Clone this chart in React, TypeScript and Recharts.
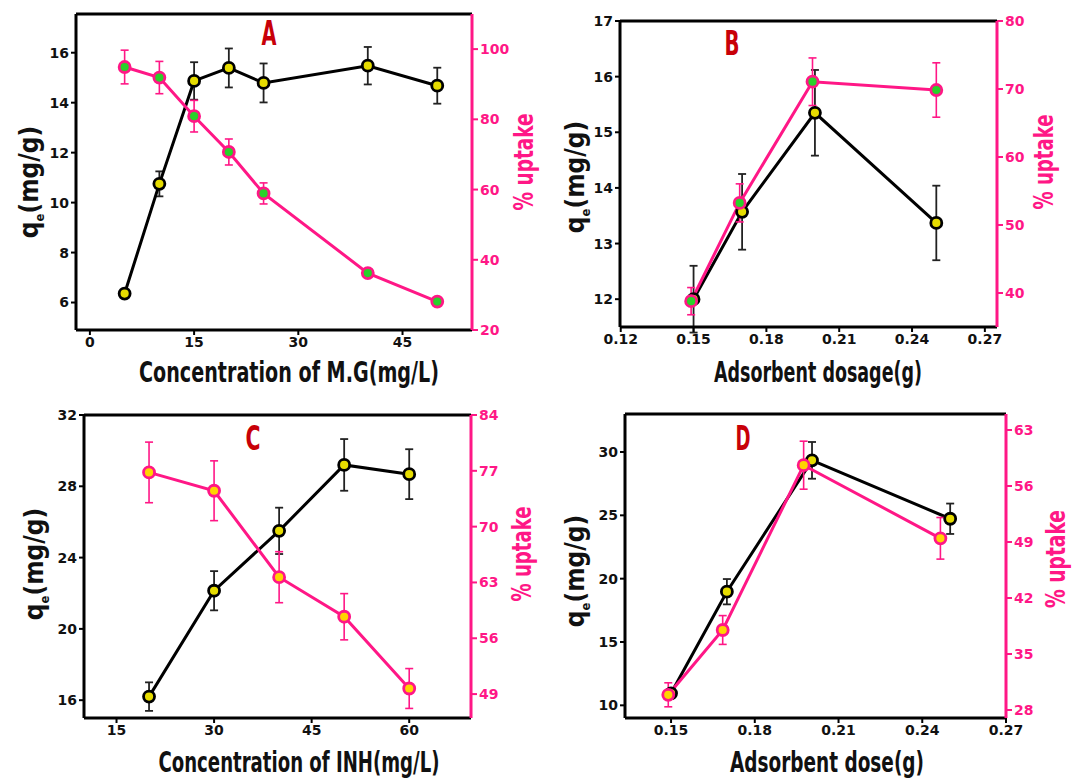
import React from 'react';
import { ComposedChart, Line, XAxis, YAxis, ErrorBar, ReferenceLine } from 'recharts';

// ---------- Panel A: effect of initial M.G concentration ----------
const mgConc = [5, 10, 15, 20, 25, 40, 50];
const mgQe = [6.36, 10.75, 14.87, 15.39, 14.79, 15.48, 14.68];
const mgQeErr = [0.15, 0.5, 0.75, 0.78, 0.78, 0.75, 0.72];
const mgUptake = [94.9, 91.9, 80.9, 70.7, 58.9, 36.2, 28.1];
const mgUptakeErr = [4.8, 4.6, 4.5, 3.7, 3.0, 0.6, 0.6];

// ---------- Panel B: effect of adsorbent dosage on M.G ----------
const mgDoseQeX = [0.15, 0.17, 0.2, 0.25];
const mgDoseQe = [12.0, 13.57, 15.35, 13.37];
const mgDoseQeErr = [0.6, 0.68, 0.77, 0.67];
const mgDoseUpX = [0.149, 0.169, 0.199, 0.25];
const mgDoseUp = [38.8, 53.25, 71.07, 69.85];
const mgDoseUpErr = [2.0, 2.8, 3.5, 4.0];

// ---------- Panel C: effect of initial INH concentration ----------
const inhConc = [20, 30, 40, 50, 60];
const inhQe = [16.2, 22.14, 25.5, 29.2, 28.68];
const inhQeErr = [0.8, 1.1, 1.3, 1.45, 1.4];
const inhUptake = [76.8, 74.5, 63.66, 58.7, 49.7];
const inhUptakeErr = [3.8, 3.75, 3.2, 2.9, 2.5];

// ---------- Panel D: effect of adsorbent dose on INH ----------
const inhDoseQeX = [0.15, 0.17, 0.2005, 0.25];
const inhDoseQe = [10.95, 18.97, 29.34, 24.73];
const inhDoseQeErr = [0.3, 1.0, 1.45, 1.2];
const inhDoseUpX = [0.149, 0.1685, 0.1975, 0.2465];
const inhDoseUp = [29.9, 38.0, 58.6, 49.46];
const inhDoseUpErr = [1.5, 1.8, 3.0, 2.6];

// ---------- Axis ticks ----------
const ticksAx = [0, 15, 30, 45];
const ticksAq = [6, 8, 10, 12, 14, 16];
const ticksAu = [20, 40, 60, 80, 100];
const ticksBx = [0.12, 0.15, 0.18, 0.21, 0.24, 0.27];
const ticksBq = [12, 13, 14, 15, 16, 17];
const ticksBu = [40, 50, 60, 70, 80];
const ticksCx = [15, 30, 45, 60];
const ticksCq = [16, 20, 24, 28, 32];
const ticksCu = [49, 56, 63, 70, 77, 84];
const ticksDx = [0.15, 0.18, 0.21, 0.24, 0.27];
const ticksDq = [10, 15, 20, 25, 30];
const ticksDu = [28, 35, 42, 49, 56, 63];

const PINK = '#ff1786';
const INK = '#111111';
const LETTER = '#c80008';

type Row = { x: number; y: number; err: number };
const rows = (xs: number[], ys: number[], es: number[]): Row[] =>
  xs.map((x, i) => ({ x, y: ys[i], err: es[i] }));

const tickFont = { fontSize: 14, fontWeight: 700, fontFamily: 'DejaVu Sans, sans-serif' };

type PanelProps = {
  left: number;
  top: number;
  width: number;
  height: number;
  marginTop: number;
  leftW: number;
  rightW: number;
  xH: number;
  xDomain: [number, number];
  xTicks: number[];
  decimals: number;
  qDomain: [number, number];
  qTicks: number[];
  uDomain: [number, number];
  uTicks: number[];
  qe: Row[];
  up: Row[];
  upFill: string;
};

function Panel(p: PanelProps) {
  return (
    <div style={{ position: 'absolute', left: p.left, top: p.top }}>
      <ComposedChart
        width={p.width}
        height={p.height}
        margin={{ top: p.marginTop, right: 0, bottom: 0, left: 0 }}
      >
        <XAxis
          xAxisId="x"
          type="number"
          dataKey="x"
          domain={p.xDomain}
          ticks={p.xTicks}
          allowDataOverflow
          height={p.xH}
          tickFormatter={(v: number) => v.toFixed(p.decimals)}
          axisLine={{ stroke: '#000', strokeWidth: 3 }}
          tickLine={{ stroke: '#000', strokeWidth: 2 }}
          tickSize={5}
          tick={{ ...tickFont, fill: INK }}
        />
        <YAxis
          yAxisId="q"
          orientation="left"
          type="number"
          domain={p.qDomain}
          ticks={p.qTicks}
          allowDataOverflow
          width={p.leftW}
          axisLine={{ stroke: '#000', strokeWidth: 3 }}
          tickLine={{ stroke: '#000', strokeWidth: 2 }}
          tickSize={5}
          tick={{ ...tickFont, fill: INK }}
        />
        <YAxis
          yAxisId="u"
          orientation="right"
          type="number"
          domain={p.uDomain}
          ticks={p.uTicks}
          allowDataOverflow
          width={p.rightW}
          axisLine={{ stroke: PINK, strokeWidth: 3 }}
          tickLine={{ stroke: PINK, strokeWidth: 2 }}
          tickSize={6}
          tick={{ ...tickFont, fill: PINK }}
        />
        <ReferenceLine xAxisId="x" yAxisId="q" y={p.qDomain[1]} stroke="#000" strokeWidth={3} />
        <Line
          xAxisId="x"
          yAxisId="q"
          data={p.qe}
          dataKey="y"
          stroke="#000"
          strokeWidth={3}
          isAnimationActive={false}
          dot={{ r: 5.5, fill: '#e6dc00', stroke: '#000', strokeWidth: 2.8 }}
          activeDot={false}
        >
          <ErrorBar dataKey="err" direction="y" width={4} stroke="#222" strokeWidth={1.8} />
        </Line>
        <Line
          xAxisId="x"
          yAxisId="u"
          data={p.up}
          dataKey="y"
          stroke={PINK}
          strokeWidth={3}
          isAnimationActive={false}
          dot={{ r: 5.5, fill: p.upFill, stroke: PINK, strokeWidth: 2.8 }}
          activeDot={false}
        >
          <ErrorBar dataKey="err" direction="y" width={4} stroke={PINK} strokeWidth={1.6} />
        </Line>
      </ComposedChart>
    </div>
  );
}

const titleFont = "'Liberation Sans Narrow', 'DejaVu Sans Condensed', sans-serif";

function QeTitle({ x, y }: { x: number; y: number }) {
  return (
    <text
      transform={`translate(${x},${y}) rotate(-90)`}
      textAnchor="middle"
      fontFamily={titleFont}
      fontWeight={700}
      fontSize={26}
      fill={INK}
    >
      q<tspan dy={6} fontSize={13}>e</tspan>
      <tspan dy={-6}>(mg/g)</tspan>
    </text>
  );
}

function UptakeTitle({ x, y, len }: { x: number; y: number; len: number }) {
  return (
    <text
      transform={`translate(${x},${y}) rotate(-90)`}
      textAnchor="middle"
      fontFamily={titleFont}
      fontWeight={700}
      fontSize={27}
      fill={PINK}
      textLength={len}
      lengthAdjust="spacingAndGlyphs"
    >
      % uptake
    </text>
  );
}

function XTitle({ x, y, len, text }: { x: number; y: number; len: number; text: string }) {
  return (
    <text
      x={x}
      y={y}
      textAnchor="middle"
      fontFamily={titleFont}
      fontWeight={700}
      fontSize={29}
      fill={INK}
      textLength={len}
      lengthAdjust="spacingAndGlyphs"
    >
      {text}
    </text>
  );
}

function Letter({ x, y, text }: { x: number; y: number; text: string }) {
  return (
    <text
      x={x}
      y={y}
      textAnchor="middle"
      fontFamily={titleFont}
      fontWeight={700}
      fontSize={34}
      fill={LETTER}
      textLength={15}
      lengthAdjust="spacingAndGlyphs"
    >
      {text}
    </text>
  );
}

export default function App() {
  return (
    <div
      style={{
        position: 'absolute',
        left: 0,
        top: 0,
        width: 1075,
        height: 778,
        background: '#fff',
        overflow: 'hidden',
      }}
    >
      <Panel
        left={0}
        top={0}
        width={537}
        height={392}
        marginTop={14}
        leftW={76}
        rightW={65}
        xH={62}
        xDomain={[-2, 55]}
        xTicks={ticksAx}
        decimals={0}
        qDomain={[4.9, 17.55]}
        qTicks={ticksAq}
        uDomain={[20, 110]}
        uTicks={ticksAu}
        qe={rows(mgConc, mgQe, mgQeErr)}
        up={rows(mgConc, mgUptake, mgUptakeErr)}
        upFill="#2ad12a"
      />
      <Panel
        left={537}
        top={0}
        width={538}
        height={392}
        marginTop={21}
        leftW={83}
        rightW={78}
        xH={65}
        xDomain={[0.1197, 0.275]}
        xTicks={ticksBx}
        decimals={2}
        qDomain={[11.5, 17]}
        qTicks={ticksBq}
        uDomain={[35, 80]}
        uTicks={ticksBu}
        qe={rows(mgDoseQeX, mgDoseQe, mgDoseQeErr)}
        up={rows(mgDoseUpX, mgDoseUp, mgDoseUpErr)}
        upFill="#2ad12a"
      />
      <Panel
        left={0}
        top={392}
        width={537}
        height={386}
        marginTop={23}
        leftW={84}
        rightW={66}
        xH={60}
        xDomain={[10, 69.5]}
        xTicks={ticksCx}
        decimals={0}
        qDomain={[15, 32]}
        qTicks={ticksCq}
        uDomain={[46, 84]}
        uTicks={ticksCu}
        qe={rows(inhConc, inhQe, inhQeErr)}
        up={rows(inhConc, inhUptake, inhUptakeErr)}
        upFill="#ffd400"
      />
      <Panel
        left={537}
        top={392}
        width={538}
        height={386}
        marginTop={22}
        leftW={88}
        rightW={69}
        xH={60}
        xDomain={[0.1335, 0.27]}
        xTicks={ticksDx}
        decimals={2}
        qDomain={[9, 33]}
        qTicks={ticksDq}
        uDomain={[27, 65]}
        uTicks={ticksDu}
        qe={rows(inhDoseQeX, inhDoseQe, inhDoseQeErr)}
        up={rows(inhDoseUpX, inhDoseUp, inhDoseUpErr)}
        upFill="#ffd400"
      />
      <svg
        width={1075}
        height={778}
        style={{ position: 'absolute', left: 0, top: 0, pointerEvents: 'none' }}
      >
        <Letter x={269} y={45} text="A" />
        <Letter x={732} y={55} text="B" />
        <Letter x={253} y={450} text="C" />
        <Letter x={743} y={450} text="D" />

        <QeTitle x={38} y={182} />
        <QeTitle x={584} y={177} />
        <QeTitle x={43} y={564} />
        <QeTitle x={584} y={571} />

        <UptakeTitle x={533} y={162} len={97} />
        <UptakeTitle x={1053} y={162} len={95} />
        <UptakeTitle x={531} y={554} len={95} />
        <UptakeTitle x={1065} y={559} len={98} />

        <XTitle x={289} y={382} len={300} text="Concentration of M.G(mg/L)" />
        <XTitle x={818} y={382} len={208} text="Adsorbent dosage(g)" />
        <XTitle x={299} y={772} len={281} text="Concentration of INH(mg/L)" />
        <XTitle x={827} y={772} len={194} text="Adsorbent dose(g)" />
      </svg>
    </div>
  );
}
